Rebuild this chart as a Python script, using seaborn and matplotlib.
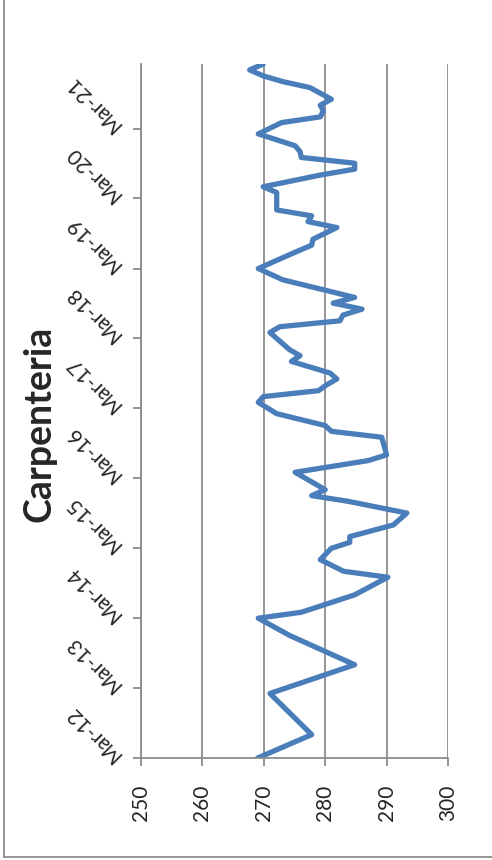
import pandas as pd
import numpy as np
import matplotlib
matplotlib.use("Agg")
import matplotlib.pyplot as plt
import matplotlib.dates as mdates
from matplotlib.lines import Line2D
import seaborn as sns

# readings (month, level)
months = [
    "2012-03", "2012-07", "2013-02", "2013-07", "2013-12", "2014-03", "2014-04",
    "2014-07", "2014-10", "2014-11", "2015-01", "2015-03", "2015-04", "2015-05",
    "2015-07", "2015-09", "2015-11", "2015-12", "2016-01", "2016-04", "2016-06",
    "2016-07", "2016-10", "2016-11", "2016-12", "2017-02", "2017-04", "2017-05",
    "2017-06", "2017-07", "2017-08", "2017-09", "2017-11", "2017-12", "2018-01",
    "2018-04", "2018-05", "2018-06", "2018-07", "2018-08", "2018-09", "2018-10",
    "2019-01", "2019-03", "2019-06", "2019-07", "2019-08", "2019-10", "2019-11",
    "2019-12", "2020-01", "2020-04", "2020-05", "2020-07", "2020-08", "2020-09",
    "2020-10", "2020-11", "2020-12", "2021-02", "2021-04", "2021-05", "2021-06",
    "2021-07", "2021-08", "2021-10", "2021-11", "2021-12", "2022-01", "2022-02",
]
levels = [
    269.0, 277.8, 271.0, 284.8, 274.2, 269.1, 276.1,
    284.8, 290.2, 283.0, 279.2, 281.0, 284.0, 284.0,
    291.1, 293.3, 283.8, 277.8, 280.0, 275.1, 287.0,
    290.0, 289.2, 281.0, 280.0, 272.1, 269.1, 269.9,
    278.9, 280.2, 281.9, 280.8, 274.5, 275.9, 274.2,
    271.0, 272.6, 282.4, 282.9, 286.0, 281.3, 284.8,
    273.1, 269.1, 275.6, 277.8, 278.0, 281.9, 277.2,
    277.8, 272.1, 272.1, 269.9, 279.2, 284.8, 284.8,
    276.1, 275.9, 275.1, 269.1, 272.9, 279.2, 279.7,
    279.2, 281.0, 277.5, 273.1, 269.9, 267.7, 269.9,
]
value_ticks = [250, 260, 270, 280, 290, 300]
title = "Carpenteria"

df = pd.DataFrame({"date": pd.to_datetime(months), "level": levels})

sns.set_style("white")
plt.rcParams["font.family"] = ["Lato", "DejaVu Sans"]

fig = plt.figure(figsize=(4.92, 8.6), dpi=100)
ax = fig.add_axes([141 / 492, 1 - 758 / 860, 307 / 492, 694 / 860])

sns.lineplot(data=df, x="level", y="date", orient="y", sort=False,
             estimator=None, color="#4a7ebb", linewidth=3.8, ax=ax)

ax.set_xlim(250, 300)
ax.set_xticks(value_ticks)
ax.set_ylim(df["date"].min(), df["date"].max())
ax.yaxis.set_major_locator(mdates.YearLocator(base=1, month=3, day=1))
ax.yaxis.set_major_formatter(mdates.DateFormatter("%b-%y"))
ax.set_xlabel("")
ax.set_ylabel("")

ax.grid(axis="x", color="#8c8c8c", linewidth=1.3)
ax.grid(axis="y", visible=False)
for s in ["top", "right"]:
    ax.spines[s].set_visible(False)
for s in ["left", "bottom"]:
    ax.spines[s].set_color("#8c8c8c")
    ax.spines[s].set_linewidth(1.3)

ax.tick_params(axis="both", which="major", length=6, width=1.3,
               color="#8c8c8c", direction="out", left=True, bottom=True)
ax.tick_params(axis="x", labelsize=15, pad=13, labelrotation=90)
ax.tick_params(axis="y", labelsize=15, pad=11)
for lab in ax.get_yticklabels():
    lab.set_rotation(135)
    lab.set_rotation_mode("anchor")
    lab.set_ha("left")
    lab.set_va("center")
for lab in ax.get_xticklabels():
    lab.set_va("top")

fig.text(40 / 492, 1 - 424 / 860, title, rotation=90, fontsize=27,
         fontweight="bold", ha="center", va="center")

# outer chart border (left and bottom edges visible)
bx, by = 3.5 / 492, 1 - 857 / 860
fig.add_artist(Line2D([bx, bx], [1, by], transform=fig.transFigure,
                      color="#8c8c8c", linewidth=1.3))
fig.add_artist(Line2D([bx, 1], [by, by], transform=fig.transFigure,
                      color="#8c8c8c", linewidth=1.3))

fig.savefig("out.png", dpi=100)
